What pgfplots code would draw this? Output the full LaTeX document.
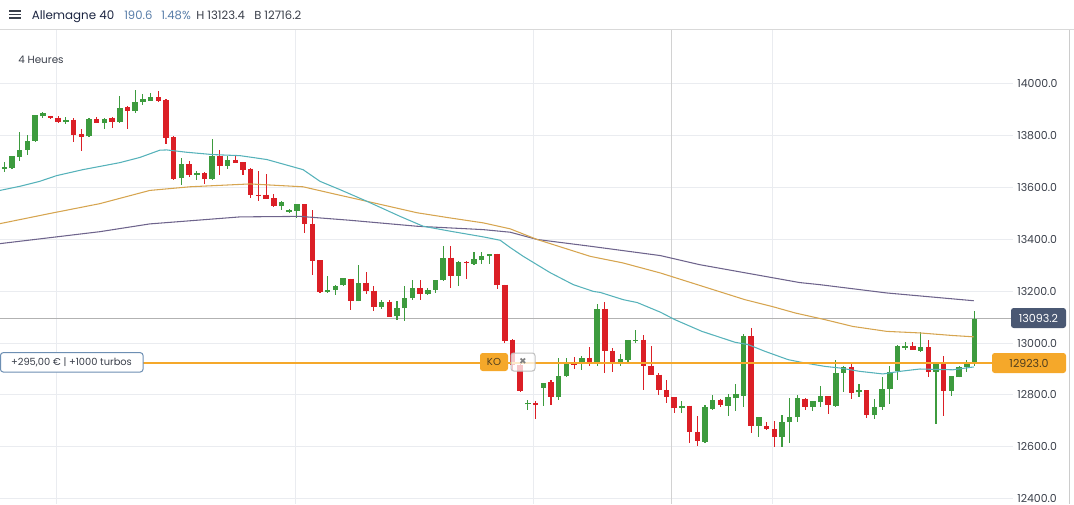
\documentclass[border=0pt]{standalone}
\usepackage{pgfplots}
\pgfplotsset{compat=1.18}
\usepackage{pgfplotstable}
\usepackage{fontspec}
\setmainfont{Poppins}
\definecolor{cgreen}{RGB}{61,155,62}
\definecolor{cred}{RGB}{219,31,38}
\definecolor{mateal}{RGB}{86,178,186}
\definecolor{maorange}{RGB}{214,165,80}
\definecolor{mapurple}{RGB}{110,100,140}
\definecolor{kocol}{RGB}{245,168,42}
\definecolor{gridc}{RGB}{234,236,240}
\definecolor{pricebox}{RGB}{74,88,115}
\definecolor{txt}{RGB}{58,63,74}
\definecolor{navy}{RGB}{28,37,65}
\definecolor{bluegray}{RGB}{88,125,168}
\definecolor{boxborder}{RGB}{109,143,179}
\definecolor{kotext}{RGB}{80,62,30}

\pgfplotstableread{
i O H L C
0 13670 13698 13660 13677
1 13675 13722 13672 13719
2 13716 13814 13700 13744
3 13744 13801 13726 13780
4 13780 13880 13778 13877
5 13873 13890 13867 13886
8 13852 13870 13842 13861
11 13796 13868 13794 13864
13 13847 13868 13825 13865
15 13851 13950 13849 13906
17 13893 13976 13888 13929
18 13929 13958 13916 13939
19 13934 13965 13934 13949
23 13636 13714 13608 13688
25 13649 13662 13629 13654
27 13633 13785 13630 13722
29 13683 13721 13670 13707
36 13527 13547 13513 13543
37 13505 13516 13500 13514
38 13510 13534 13481 13534
42 13196 13257 13193 13206
43 13203 13225 13185 13221
44 13222 13252 13219 13249
46 13161 13302 13161 13233
49 13138 13167 13133 13160
51 13103 13163 13088 13135
52 13134 13219 13084 13175
53 13172 13241 13165 13212
55 13190 13212 13188 13206
56 13206 13244 13193 13244
57 13242 13373 13238 13329
59 13260 13318 13219 13314
61 13306 13352 13302 13322
62 13319 13350 13303 13337
63 13334 13345 13303 13345
68 12764 12779 12741 12770
70 12828 12846 12756 12846
72 12791 12943 12779 12874
73 12872 12943 12869 12923
75 12926 12949 12897 12943
77 12927 13151 12913 13133
80 12920 12959 12913 12940
81 12934 13013 12919 13011
82 13007 13052 13000 13013
88 12749 12778 12731 12759
91 12619 12763 12615 12752
92 12747 12801 12741 12782
94 12759 12804 12718 12791
95 12787 12843 12737 12805
96 12797 13035 12754 13026
98 12682 12717 12638 12715
101 12637 12724 12598 12696
102 12695 12788 12615 12715
103 12714 12801 12694 12788
105 12753 12776 12737 12775
106 12772 12836 12754 12797
108 12759 12933 12753 12885
109 12885 12910 12810 12908
111 12810 12843 12792 12820
113 12721 12784 12707 12755
114 12753 12868 12743 12824
115 12823 12913 12766 12889
116 12891 12991 12856 12987
117 12981 13003 12972 12990
119 12971 13043 12967 12984
121 12889 12921 12689 12921
123 12817 12874 12797 12872
124 12868 12913 12868 12908
125 12908 12936 12889 12921
126 12926 13125 12913 13093
}\greens

\pgfplotstableread{
i O H L C
6 13875 13876 13862 13866
7 13868 13874 13847 13851
9 13861 13868 13775 13803
10 13806 13823 13739 13793
12 13864 13872 13847 13847
14 13868 13872 13829 13851
16 13909 13915 13823 13893
20 13947 13970 13930 13931
21 13936 13940 13765 13791
22 13793 13797 13630 13633
24 13688 13700 13641 13647
26 13654 13658 13611 13633
28 13719 13742 13649 13681
30 13707 13720 13692 13693
31 13697 13698 13649 13667
32 13672 13673 13557 13569
33 13572 13662 13549 13568
34 13572 13653 13554 13556
35 13557 13575 13523 13527
39 13534 13534 13423 13459
40 13460 13514 13264 13315
41 13319 13320 13193 13196
45 13248 13248 13126 13161
47 13233 13275 13190 13199
48 13202 13221 13122 13139
50 13160 13167 13101 13102
54 13212 13244 13167 13189
58 13329 13373 13211 13260
60 13314 13315 13247 13307
64 13345 13345 13209 13223
65 13225 13225 13000 13007
66 13013 13017 12895 12915
67 12915 12925 12812 12814
69 12770 12778 12709 12760
71 12849 12859 12760 12791
74 12923 12947 12900 12917
76 12943 12985 12910 12928
78 13133 13158 12885 12968
79 12971 12981 12887 12921
83 13013 13030 12818 12910
84 12913 12990 12878 12878
85 12878 12885 12801 12818
86 12818 12859 12771 12791
87 12792 12792 12731 12749
89 12759 12759 12615 12656
90 12658 12720 12604 12621
93 12782 12786 12754 12763
97 13026 13058 12654 12682
99 12679 12696 12664 12669
100 12669 12698 12598 12637
104 12786 12787 12743 12753
107 12795 12795 12728 12760
110 12908 12923 12786 12808
112 12818 12820 12711 12721
118 12990 13003 12972 12972
120 12984 13013 12868 12889
122 12921 12951 12720 12814
}\reds

\begin{document}
\begin{tikzpicture}
\path[use as bounding box] (0,0) rectangle (805.5pt,378pt);
\begin{axis}[
  at={(0pt,0pt)}, anchor=south west,
  scale only axis, width=759.75pt, height=355.5pt,
  xmin=-0.558, xmax=131.0, ymin=12380, ymax=14206,
  axis line style={draw=none},
  major tick length=0pt,
  xtick={6.84,37.88,68.79,99.83}, xticklabels={},
  extra x ticks={86.71}, extra x tick labels={},
  extra x tick style={grid=major, major grid style={color=gray!35, line width=0.75pt}},
  ytick={12400,12600,...,14000},
  scaled y ticks=false,
  yticklabel pos=right,
  yticklabel style={anchor=west, inner sep=0pt, xshift=3pt, text=txt,
     font=\fontsize{8.2}{9}\selectfont,
     /pgf/number format/fixed, /pgf/number format/fixed zerofill,
     /pgf/number format/precision=1, /pgf/number format/1000 sep={},
     /pgf/number format/assume math mode=true},
  grid=major, major grid style={color=gridc, line width=0.75pt},
]
% last price line
\addplot[color=gray!60, line width=0.75pt, forget plot] coordinates {(-1,13093.2) (132,13093.2)};
% wicks
\addplot[draw=none, mark=none, forget plot, error bars/.cd, y dir=both, y explicit, error mark=none,
  error bar style={draw=cgreen, line width=0.8pt}]
  table[x=i, y=O, y error plus expr=\thisrow{H}-\thisrow{O}, y error minus expr=\thisrow{O}-\thisrow{L}]{\greens};
\addplot[draw=none, mark=none, forget plot, error bars/.cd, y dir=both, y explicit, error mark=none,
  error bar style={draw=cred, line width=0.8pt}]
  table[x=i, y=O, y error plus expr=\thisrow{H}-\thisrow{O}, y error minus expr=\thisrow{O}-\thisrow{L}]{\reds};
% bodies
\addplot[draw=none, mark=none, forget plot, error bars/.cd, y dir=plus, y explicit, error mark=none,
  error bar style={draw=cgreen, line width=4.1pt}]
  table[x=i, y=O, y error plus expr=\thisrow{C}-\thisrow{O}]{\greens};
\addplot[draw=none, mark=none, forget plot, error bars/.cd, y dir=minus, y explicit, error mark=none,
  error bar style={draw=cred, line width=4.1pt}]
  table[x=i, y=O, y error minus expr=\thisrow{O}-\thisrow{C}]{\reds};
% moving averages
\addplot[color=mapurple, line width=0.8pt, forget plot] coordinates {
(-0.56,13383) (12.4,13429) (18.9,13459) (30.6,13486) (38.4,13488) (44.9,13473) (53.6,13450) (62.2,13437) (65.7,13427) (69.2,13399) (76.1,13373) (85.2,13337) (90.3,13302) (103.3,13233) (105.9,13225) (114.6,13193) (125.9,13163)};
\addplot[color=maorange, line width=0.8pt, forget plot] coordinates {
(-0.56,13460) (5.9,13499) (12.4,13537) (18.9,13588) (24.1,13602) (31.9,13613) (38.8,13602) (43.2,13572) (47.1,13546) (53.6,13502) (57.9,13482) (62.2,13463) (65.7,13440) (69.2,13399) (76.1,13334) (80.3,13309) (85.2,13270) (96.2,13167) (99.7,13141) (102.7,13116) (106.6,13090) (110.2,13064) (114.6,13045) (118.9,13039) (123.2,13029) (125.9,13024)};
\addplot[color=mateal, line width=0.8pt, forget plot] coordinates {
(-0.56,13588) (2.04,13604) (4.6,13623) (6.8,13645) (10.2,13668) (15.0,13695) (17.6,13715) (20.2,13743) (21.1,13744) (23.7,13735) (27.1,13726) (30.6,13722) (34.1,13707) (38.8,13668) (41.0,13623) (43.6,13591) (47.1,13546) (51.4,13488) (54.4,13450) (57.9,13431) (62.2,13409) (64.4,13396) (65.7,13368) (67.4,13334) (70.9,13271) (73.9,13225) (76.5,13199) (77.4,13195) (80.4,13167) (82.2,13156) (85.2,13119) (87.1,13090) (90.6,13045) (94.9,13003) (96.6,12994) (98.8,12968) (101.8,12936) (104.0,12923) (106.6,12910) (108.5,12904) (111.1,12891) (114.1,12881) (116.3,12891) (118.9,12900) (123.2,12897) (125.9,12908)};
% KO level
\addplot[color=kocol, line width=1.9pt, forget plot] coordinates {(-1,12923) (132,12923)};
\end{axis}
\begin{scope}[x=0.75pt,y=0.75pt]
% header
\draw[color=gray!30, line width=0.75pt] (0,474) -- (1074,474);
\foreach \yy in {493,489.5,486} \draw[color=txt, line width=1.1pt] (9,\yy) -- (20.5,\yy);
\node[anchor=base west, inner sep=0pt, text=navy, font=\fontsize{8.9}{11}\selectfont] at (31.5,484.7) {Allemagne 40};
\node[anchor=base west, inner sep=0pt, text=bluegray, font=\fontsize{8.7}{10}\selectfont] at (124,484.7) {190.6};
\node[anchor=base west, inner sep=0pt, text=bluegray, font=\fontsize{8.7}{10}\selectfont] at (161,484.7) {1.48\%};
\node[anchor=base west, inner sep=0pt, text=txt, font=\fontsize{8.7}{10}\selectfont] at (196,484.7) {H 13123.4};
\node[anchor=base west, inner sep=0pt, text=txt, font=\fontsize{8.7}{10}\selectfont] at (254,484.7) {B 12716.2};
\node[anchor=base west, inner sep=0pt, text=txt, font=\fontsize{7.8}{9}\selectfont] at (18,440) {4 Heures};
% right separator
\draw[color=gray!40, line width=0.75pt] (1069,0) -- (1069,474);
% price label
\draw[fill=pricebox, draw=none, rounded corners=2] (1011,176) rectangle (1066,196);
\node[text=white, inner sep=0pt, font=\fontsize{8.3}{10}\selectfont] at (1038.5,186) {13093.2};
% KO label right
\draw[fill=kocol, draw=none, rounded corners=2] (992,131) rectangle (1066,151);
\node[text=kotext, inner sep=0pt, font=\fontsize{8.3}{10}\selectfont] at (1029,141) {12923.0};
% left position box
\draw[fill=white, draw=boxborder, line width=0.75pt, rounded corners=2] (0.5,132) rectangle (143,151.3);
\node[text=txt, inner sep=0pt, font=\fontsize{7.4}{9}\selectfont] at (71.5,141.7) {+295,00 € | +1000 turbos};
% KO box
\draw[fill=kocol, draw=none, rounded corners=2] (480,133) rectangle (508,151);
\node[text=kotext, inner sep=0pt, font=\fontsize{7.6}{9}\selectfont] at (494,142) {KO};
% close box
\draw[fill=white, fill opacity=0.75, draw=gray!50, line width=0.75pt, rounded corners=2] (511,133) rectangle (535,151);
\node[text=gray, inner sep=0pt, font=\fontsize{9}{10}\selectfont\bfseries] at (523,142) {×};
\end{scope}
\end{tikzpicture}
\end{document}
